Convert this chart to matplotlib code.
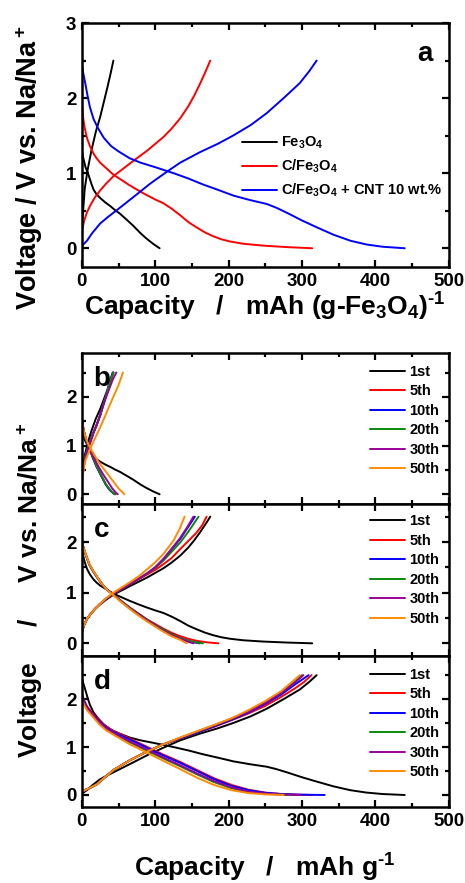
import numpy as np
import matplotlib
matplotlib.use('Agg')
import matplotlib.pyplot as plt
from matplotlib.ticker import MultipleLocator

# ---- data: (capacity mAh/g, voltage V) points ----

# panel a / 1st cycles
fe3o4_dis = [(0, 1.3), (2, 1.2), (5, 1.08), (9, 0.98), (13, 0.86), (16, 0.78), (20, 0.72),
             (25, 0.67), (32, 0.61), (39, 0.56), (45, 0.51), (52, 0.46), (60, 0.39),
             (70, 0.3), (80, 0.2), (88, 0.13), (97, 0.06), (106, 0.0)]
fe3o4_chg = [(1, 0.4), (4, 0.8), (8, 1.05), (13, 1.3), (19, 1.55), (25, 1.75), (30, 1.95),
             (35, 2.15), (39, 2.32), (43, 2.5)]
cfe_dis = [(0, 1.95), (2, 1.72), (4, 1.6), (7, 1.47), (11, 1.36), (16, 1.26), (20, 1.2),
           (25, 1.14), (34, 1.06), (43, 0.98), (54, 0.91), (65, 0.84), (77, 0.77), (88, 0.71),
           (100, 0.65), (111, 0.6), (122, 0.53), (134, 0.44), (145, 0.35), (156, 0.28),
           (168, 0.21), (179, 0.16), (190, 0.12), (202, 0.09), (220, 0.06), (247, 0.035),
           (280, 0.015), (314, 0.0)]
cfe_chg = [(0, 0.22), (3, 0.36), (7, 0.48), (12, 0.58), (18, 0.68), (25, 0.77), (33, 0.86),
           (43, 0.96), (55, 1.05), (67, 1.14), (78, 1.22), (89, 1.3), (100, 1.39), (111, 1.48),
           (122, 1.59), (134, 1.73), (145, 1.89), (153, 2.03), (161, 2.19), (168, 2.34), (175, 2.5)]
cnt_dis = [(0, 2.45), (2, 2.33), (5, 2.18), (8, 2.02), (11, 1.88), (16, 1.72), (22, 1.6),
           (30, 1.47), (40, 1.36), (50, 1.29), (65, 1.2), (80, 1.14), (100, 1.08), (125, 1.0),
           (145, 0.93), (165, 0.85), (185, 0.78), (207, 0.7), (230, 0.64), (252, 0.59),
           (265, 0.54), (280, 0.47), (300, 0.37), (320, 0.28), (343, 0.18), (366, 0.1),
           (388, 0.05), (410, 0.02), (440, 0.0)]
cnt_chg = [(0, 0.03), (7, 0.1), (14, 0.2), (25, 0.33), (36, 0.42), (48, 0.51), (70, 0.68),
           (93, 0.86), (116, 1.02), (134, 1.14), (161, 1.28), (185, 1.39), (206, 1.5),
           (230, 1.64), (252, 1.8), (275, 2.0), (297, 2.2), (310, 2.36), (320, 2.5)]

# panel b (Fe3O4) later cycles
b_5th_dis = [(0, 1.56), (2, 1.35), (6, 1.1), (11, 0.91), (15, 0.75), (20, 0.57), (26, 0.39),
             (33, 0.19), (38, 0.09), (43, 0.02), (46, 0.0)]
b_10th_dis = [(0, 1.55), (2, 1.34), (6, 1.1), (11, 0.91), (15, 0.75), (20, 0.57), (26, 0.39),
              (33, 0.19), (38, 0.09), (43, 0.02), (45, 0.0)]
b_20th_dis = [(0, 1.55), (2, 1.34), (6, 1.1), (11, 0.92), (15, 0.76), (20, 0.58), (26, 0.4),
              (33, 0.2), (38, 0.1), (43, 0.02), (45, 0.0)]
b_30th_dis = [(0, 1.55), (3, 1.28), (7, 1.08), (11, 0.93), (17, 0.73), (23, 0.56), (29, 0.41),
              (35, 0.27), (41, 0.13), (46, 0.04), (49, 0.0)]
b_50th_dis = [(0, 1.5), (4, 1.22), (9, 1.02), (15, 0.86), (22, 0.68), (29, 0.54), (36, 0.4),
              (43, 0.26), (50, 0.12), (56, 0.03), (58, 0.0)]
b_5th_chg = [(0, 0.36), (2, 0.55), (4, 0.72), (7, 0.9), (11, 1.06), (15, 1.24), (20, 1.42),
             (25, 1.62), (29, 1.83), (34, 2.07), (38, 2.3), (43, 2.5)]
b_10th_chg = [(0, 0.35), (2, 0.55), (4, 0.72), (7, 0.9), (11, 1.06), (15, 1.24), (20, 1.41),
              (25, 1.62), (29, 1.83), (34, 2.07), (38, 2.31), (42, 2.5)]
b_20th_chg = [(0, 0.35), (2, 0.55), (4, 0.72), (7, 0.9), (11, 1.06), (15, 1.24), (20, 1.41),
              (25, 1.62), (29, 1.83), (34, 2.07), (38, 2.31), (43, 2.5)]
b_30th_chg = [(0, 0.33), (2, 0.55), (5, 0.75), (8, 0.92), (12, 1.08), (17, 1.3), (22, 1.5),
              (27, 1.72), (32, 1.95), (37, 2.15), (42, 2.35), (47, 2.5)]
b_50th_chg = [(0, 0.2), (2, 0.45), (5, 0.7), (11, 0.92), (17, 1.12), (24, 1.34), (31, 1.58),
              (38, 1.83), (44, 2.04), (50, 2.24), (56, 2.5)]

# panel c (C/Fe3O4) later cycles
c_5th_dis = [(0, 2.0), (3, 1.85), (6, 1.72), (10, 1.56), (15, 1.43), (20, 1.32), (27, 1.18),
             (34, 1.06), (43, 0.96), (54, 0.83), (65, 0.71), (77, 0.59), (88, 0.48), (100, 0.38),
             (111, 0.29), (122, 0.21), (134, 0.14), (145, 0.09), (156, 0.05), (170, 0.02), (186, 0.0)]
c_10th_dis = [(0, 2.0), (3, 1.85), (6, 1.72), (10, 1.56), (15, 1.43), (20, 1.32), (27, 1.18),
              (34, 1.06), (43, 0.96), (54, 0.83), (65, 0.7), (77, 0.58), (88, 0.47), (100, 0.36),
              (111, 0.27), (122, 0.18), (134, 0.1), (145, 0.05), (152, 0.02), (161, 0.0)]
c_20th_dis = [(0, 2.0), (3, 1.85), (6, 1.72), (10, 1.56), (15, 1.43), (20, 1.32), (27, 1.18),
              (34, 1.06), (43, 0.96), (54, 0.83), (65, 0.7), (77, 0.58), (88, 0.47), (100, 0.36),
              (111, 0.27), (122, 0.18), (134, 0.1), (145, 0.05), (155, 0.02), (165, 0.0)]
c_30th_dis = [(0, 2.0), (3, 1.86), (6, 1.73), (10, 1.57), (15, 1.44), (20, 1.33), (27, 1.18),
              (34, 1.06), (43, 0.96), (54, 0.82), (65, 0.69), (77, 0.57), (88, 0.46), (100, 0.35),
              (111, 0.25), (122, 0.16), (134, 0.09), (145, 0.03), (152, 0.0)]
c_50th_dis = [(0, 2.0), (3, 1.86), (6, 1.73), (10, 1.57), (15, 1.44), (20, 1.33), (27, 1.18),
              (34, 1.06), (43, 0.95), (54, 0.81), (65, 0.68), (77, 0.55), (88, 0.44), (100, 0.33),
              (111, 0.23), (122, 0.14), (134, 0.07), (140, 0.02), (143, 0.0)]
c_5th_chg = [(0, 0.22), (3, 0.36), (7, 0.48), (12, 0.58), (18, 0.68), (25, 0.78), (33, 0.88),
             (43, 0.98), (55, 1.08), (67, 1.18), (78, 1.27), (89, 1.36), (100, 1.45), (111, 1.56),
             (122, 1.68), (134, 1.86), (145, 2.02), (156, 2.18), (164, 2.33), (170, 2.5)]
c_10th_chg = [(0, 0.22), (3, 0.36), (7, 0.48), (12, 0.58), (18, 0.68), (25, 0.78), (33, 0.88),
              (43, 0.98), (55, 1.08), (67, 1.18), (78, 1.28), (89, 1.38), (100, 1.5), (111, 1.66),
              (122, 1.85), (134, 2.06), (145, 2.3), (154, 2.5)]
c_20th_chg = [(0, 0.22), (3, 0.36), (7, 0.48), (12, 0.58), (18, 0.68), (25, 0.78), (33, 0.88),
              (43, 0.98), (55, 1.08), (67, 1.18), (78, 1.28), (89, 1.38), (100, 1.49), (111, 1.63),
              (122, 1.8), (134, 1.99), (145, 2.2), (159, 2.5)]
c_30th_chg = [(0, 0.22), (3, 0.36), (7, 0.48), (12, 0.58), (18, 0.68), (25, 0.78), (33, 0.88),
              (43, 0.98), (55, 1.08), (67, 1.18), (78, 1.28), (89, 1.38), (100, 1.5), (111, 1.66),
              (122, 1.86), (134, 2.08), (144, 2.3), (152, 2.5)]
c_50th_chg = [(0, 0.22), (3, 0.36), (7, 0.48), (12, 0.58), (18, 0.68), (25, 0.78), (33, 0.89),
              (43, 1.0), (55, 1.11), (67, 1.22), (78, 1.33), (88, 1.45), (100, 1.6), (111, 1.76),
              (125, 2.03), (133, 2.25), (140, 2.5)]

# panel d (C/Fe3O4 + CNT) later cycles
d_5th_dis = [(0, 2.12), (3, 1.98), (7, 1.85), (11, 1.77), (15, 1.7), (24, 1.55), (33, 1.43),
             (45, 1.32), (65, 1.18), (88, 1.01), (110, 0.85), (134, 0.69), (157, 0.52),
             (180, 0.35), (204, 0.21), (227, 0.11), (250, 0.05), (272, 0.02), (295, 0.006), (315, 0.0)]
d_10th_dis = [(0, 2.1), (3, 1.96), (7, 1.83), (11, 1.75), (15, 1.68), (24, 1.53), (33, 1.41),
              (45, 1.3), (65, 1.16), (88, 0.99), (110, 0.83), (134, 0.67), (157, 0.5),
              (180, 0.33), (204, 0.19), (227, 0.1), (250, 0.045), (272, 0.02), (300, 0.006), (331, 0.0)]
d_20th_dis = [(0, 2.05), (3, 1.92), (7, 1.8), (15, 1.66), (24, 1.5), (33, 1.38), (45, 1.27),
              (65, 1.1), (88, 0.93), (110, 0.77), (134, 0.6), (157, 0.43), (180, 0.27),
              (204, 0.14), (227, 0.06), (250, 0.025), (272, 0.008), (290, 0.0)]
d_30th_dis = [(0, 2.05), (3, 1.92), (7, 1.81), (15, 1.67), (24, 1.51), (33, 1.39), (45, 1.28),
              (65, 1.12), (88, 0.95), (110, 0.79), (134, 0.62), (157, 0.45), (180, 0.29),
              (204, 0.16), (227, 0.07), (250, 0.03), (272, 0.01), (297, 0.0)]
d_50th_dis = [(0, 2.0), (3, 1.88), (7, 1.77), (15, 1.63), (24, 1.47), (33, 1.35), (45, 1.24),
              (65, 1.06), (88, 0.89), (110, 0.72), (134, 0.54), (157, 0.36), (180, 0.21),
              (204, 0.1), (227, 0.04), (250, 0.012), (275, 0.0)]
d_5th_chg = [(0, 0.07), (10, 0.14), (20, 0.22), (43, 0.52), (65, 0.72), (88, 0.9), (110, 1.05),
             (134, 1.18), (157, 1.3), (180, 1.42), (204, 1.56), (227, 1.7), (250, 1.86),
             (272, 2.05), (290, 2.22), (303, 2.36), (313, 2.5)]
d_10th_chg = [(0, 0.07), (10, 0.14), (20, 0.22), (43, 0.52), (65, 0.72), (88, 0.9), (110, 1.05),
              (134, 1.18), (157, 1.3), (180, 1.43), (204, 1.57), (227, 1.72), (250, 1.9),
              (272, 2.1), (290, 2.3), (309, 2.5)]
d_20th_chg = [(0, 0.07), (10, 0.14), (20, 0.22), (43, 0.52), (65, 0.72), (88, 0.9), (110, 1.05),
              (134, 1.19), (157, 1.32), (180, 1.45), (204, 1.59), (227, 1.75), (250, 1.93),
              (272, 2.15), (290, 2.36), (300, 2.5)]
d_30th_chg = [(0, 0.07), (10, 0.14), (20, 0.22), (43, 0.52), (65, 0.72), (88, 0.9), (110, 1.05),
              (134, 1.19), (157, 1.32), (180, 1.45), (204, 1.59), (227, 1.74), (250, 1.92),
              (272, 2.13), (290, 2.34), (302, 2.5)]
d_50th_chg = [(0, 0.07), (10, 0.14), (20, 0.22), (43, 0.52), (65, 0.72), (88, 0.9), (110, 1.05),
              (134, 1.2), (157, 1.33), (180, 1.46), (204, 1.6), (227, 1.77), (250, 1.96),
              (272, 2.17), (288, 2.38), (297, 2.5)]

cycle_labels = ['1st', '5th', '10th', '20th', '30th', '50th']
cycle_colors = ['#000000', '#ff0000', '#0000ff', '#0a8a0a', '#990099', '#ff8c00']

plt.rcParams['font.family'] = ['Liberation Sans', 'DejaVu Sans']
plt.rcParams['font.weight'] = 'bold'
plt.rcParams['mathtext.fontset'] = 'custom'
plt.rcParams['mathtext.bf'] = 'Liberation Sans:bold'
plt.rcParams['mathtext.rm'] = 'Liberation Sans:bold'
plt.rcParams['mathtext.default'] = 'bf'

LW = 1.4


def style_axes(ax, ylim, ymajor_max, show_x):
    ax.set_xlim(0, 500)
    ax.set_ylim(*ylim)
    ax.xaxis.set_major_locator(MultipleLocator(100))
    ax.xaxis.set_minor_locator(MultipleLocator(50))
    ax.yaxis.set_major_locator(MultipleLocator(1))
    ax.yaxis.set_minor_locator(MultipleLocator(0.5))
    ax.tick_params(which='both', direction='in', top=True, right=True, width=1.6)
    ax.tick_params(which='major', length=5, labelsize=13.5, pad=4)
    ax.tick_params(which='minor', length=3)
    for s in ax.spines.values():
        s.set_linewidth(1.8)
    if not show_x:
        ax.tick_params(labelbottom=False)
    ax.set_yticks([t for t in range(0, ymajor_max + 1)])


def plot_curve(ax, pts, color, label=None):
    arr = np.array(pts)
    ax.plot(arr[:, 0], arr[:, 1], color=color, lw=LW, label=label,
            solid_joinstyle='round', solid_capstyle='round')


fig = plt.figure(figsize=(4.65, 8.83), dpi=100)

# panel a
ax_a = fig.add_axes([0.176, 0.6976, 0.789, 0.2763])
plot_curve(ax_a, fe3o4_dis, '#000000', 'Fe$_3$O$_4$')
plot_curve(ax_a, fe3o4_chg, '#000000')
plot_curve(ax_a, cfe_dis, '#ff0000', 'C/Fe$_3$O$_4$')
plot_curve(ax_a, cfe_chg, '#ff0000')
plot_curve(ax_a, cnt_dis, '#0000ff', 'C/Fe$_3$O$_4$ + CNT 10 wt.%')
plot_curve(ax_a, cnt_chg, '#0000ff')
style_axes(ax_a, (-0.25, 3.0), 3, True)
ax_a.legend(loc='center left', bbox_to_anchor=(0.436, 0.41), frameon=False, fontsize=10.5,
            handlelength=2.4, handletextpad=0.3, labelspacing=0.45, borderpad=0, borderaxespad=0)
ax_a.text(0.935, 0.875, 'a', transform=ax_a.transAxes, fontsize=20, ha='center', va='center')

panels = [
    ('b', [0.176, 0.4292, 0.789, 0.1710], (-0.2, 2.9), 0.553,
     [fe3o4_dis, b_5th_dis, b_10th_dis, b_20th_dis, b_30th_dis, b_50th_dis],
     [fe3o4_chg, b_5th_chg, b_10th_chg, b_20th_chg, b_30th_chg, b_50th_chg]),
    ('c', [0.176, 0.2571, 0.789, 0.1721], (-0.25, 2.75), 0.566,
     [cfe_dis, c_5th_dis, c_10th_dis, c_20th_dis, c_30th_dis, c_50th_dis],
     [cfe_chg, c_5th_chg, c_10th_chg, c_20th_chg, c_30th_chg, c_50th_chg]),
    ('d', [0.176, 0.0861, 0.789, 0.1710], (-0.25, 2.9), 0.553,
     [cnt_dis, d_5th_dis, d_10th_dis, d_20th_dis, d_30th_dis, d_50th_dis],
     [cnt_chg, d_5th_chg, d_10th_chg, d_20th_chg, d_30th_chg, d_50th_chg]),
]

for tag, rect, ylim, leg_y, dis_list, chg_list in panels:
    ax = fig.add_axes(rect)
    for lab, col, dis, chg in zip(cycle_labels, cycle_colors, dis_list, chg_list):
        plot_curve(ax, dis, col, lab)
        plot_curve(ax, chg, col)
    style_axes(ax, ylim, 2, tag == 'd')
    ax.legend(loc='center left', bbox_to_anchor=(0.785, leg_y), frameon=False, fontsize=10.5,
              handlelength=2.4, handletextpad=0.3, labelspacing=0.38, borderpad=0, borderaxespad=0)
    ax.text(0.055, 0.83, tag, transform=ax.transAxes, fontsize=20, ha='center', va='center')

fig.text(0.062, 1 - 168 / 883, 'Voltage / V vs. Na/Na$^+$', rotation=90, fontsize=19.5,
         ha='center', va='center')
fig.text(0.57, 1 - 307 / 883, r'Capacity   /   mAh (g-Fe$_3$O$_4$)$^{\text{-1}}$', fontsize=19,
         ha='center', va='center')
fig.text(0.065, 1 - 590 / 883, 'Voltage     /     V vs. Na/Na$^+$', rotation=90, fontsize=19,
         ha='center', va='center')
fig.text(0.57, 1 - 868 / 883, r'Capacity   /   mAh g$^{\text{-1}}$', fontsize=19,
         ha='center', va='center')

fig.savefig('out.png', dpi=100)
